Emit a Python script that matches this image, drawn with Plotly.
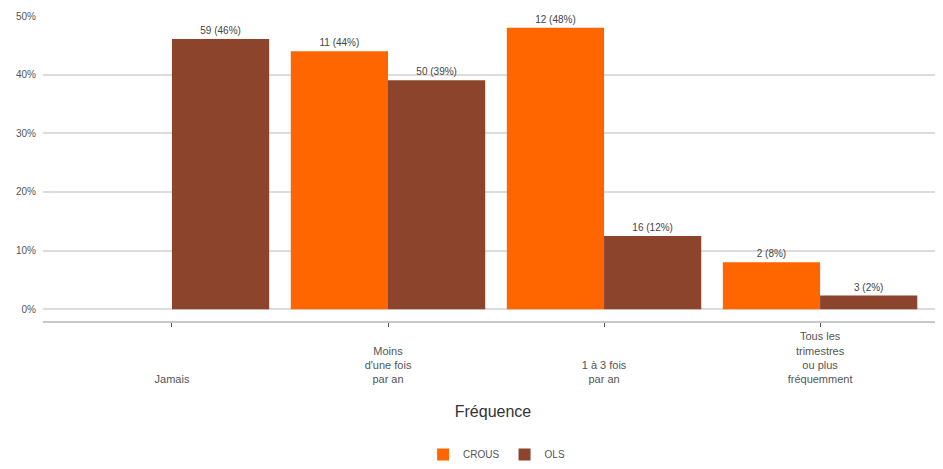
import plotly.graph_objects as go

categories = ["Jamais", "Moins<br>d'une fois<br>par an", "1 à 3 fois<br>par an",
              "Tous les<br>trimestres<br>ou plus<br>fréquemment"]
crous_counts = [0, 11, 12, 2]
crous_pct = [0, 44, 48, 8]
ols_counts = [59, 50, 16, 3]
ols_pct = [46.09, 39.06, 12.5, 2.34]
ytick_vals = [0, 10, 20, 30, 40, 50]
ytick_text = ["0%", "10%", "20%", "30%", "40%", "50%"]

# bottom-align the multi-line tick labels
max_lines = max(c.count("<br>") for c in categories)
tick_text = ["<br>" * (max_lines - c.count("<br>")) + c for c in categories]
xs = list(range(len(categories)))

def labels(counts, pct):
    return ["" if c == 0 else f"{c} ({round(p)}%)" for c, p in zip(counts, pct)]

def vals(counts, pct):
    return [None if c == 0 else p for c, p in zip(counts, pct)]

fig = go.Figure()
fig.add_trace(go.Bar(name="CROUS", x=xs, y=vals(crous_counts, crous_pct),
                     marker=dict(color="#FF6600", line=dict(width=0)),
                     text=labels(crous_counts, crous_pct), textposition="outside",
                     textfont=dict(size=10, color="#444"), cliponaxis=False))
fig.add_trace(go.Bar(name="OLS", x=xs, y=vals(ols_counts, ols_pct),
                     marker=dict(color="#8C452C", line=dict(width=0)),
                     text=labels(ols_counts, ols_pct), textposition="outside",
                     textfont=dict(size=10, color="#444"), cliponaxis=False))

# page body has an 8px default margin: figure sits at (8, 8)
fig.update_layout(
    width=935, height=461,
    margin=dict(l=35, r=0, t=8, b=146),
    paper_bgcolor="white", plot_bgcolor="white",
    font=dict(family="Liberation Sans, Arial, sans-serif", size=10, color="#555"),
    barmode="group", bargap=0.1, bargroupgap=0,
    showlegend=True,
    legend=dict(orientation="h", x=0.504, xanchor="center", y=-0.44, yanchor="middle",
                font=dict(size=10, color="#555"), itemwidth=30),
)
fig.update_xaxes(
    tickmode="array", tickvals=xs, ticktext=tick_text,
    range=[-0.597, 3.569], autorange=False,
    showline=True, linecolor="#c8c8c8", linewidth=2,
    ticks="outside", ticklen=4, tickcolor="#555", tickwidth=1,
    tickfont=dict(size=11, color="#555"),
    showgrid=False, zeroline=False,
    title=dict(text="Fréquence", font=dict(size=16, color="#333"), standoff=22),
    automargin=False,
)
fig.update_yaxes(
    range=[-2, 50], autorange=False,
    tickmode="array", tickvals=ytick_vals, ticktext=ytick_text,
    showgrid=True, gridcolor="#dcdcdc", gridwidth=2,
    zeroline=False, showline=False,
    tickfont=dict(size=10, color="#555"), ticklabelstandoff=6,
    automargin=False,
)

fig.write_html("out.html")
